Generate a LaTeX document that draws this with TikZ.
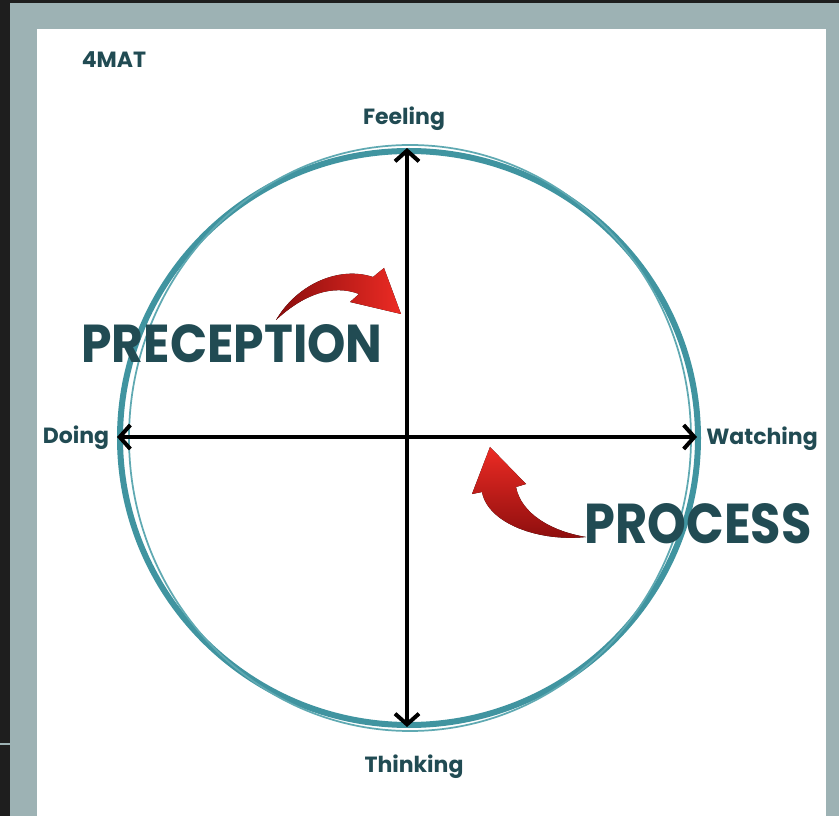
\documentclass[tikz,border=0pt]{standalone}
\usepackage{fontspec}
\usepackage{graphicx}
\setmainfont{Poppins}
\usetikzlibrary{arrows.meta}

\definecolor{strip}{HTML}{1E1E1E}
\definecolor{frame}{HTML}{9DB2B4}
\definecolor{ring}{HTML}{4094A0}
\definecolor{ringlight}{HTML}{5FA9B2}
\definecolor{ink}{HTML}{214B53}
\definecolor{redlight}{HTML}{EC2B24}
\definecolor{reddark}{HTML}{8A0D0D}

\tikzset{
  axis/.style={line width=3pt, line cap=round, {Straight Barb[length=8pt,width=18pt]}-{Straight Barb[length=8pt,width=18pt]}},
  word/.style={font=\bfseries\fontsize{16.5}{18}\selectfont, text=ink, inner sep=0pt, anchor=base},
  bigword/.style={font=\bfseries, text=ink, inner sep=0pt, anchor=base},
  bendright/.style={draw=none, left color=reddark, right color=redlight},
  bendup/.style={draw=none, top color=redlight, bottom color=reddark}
}

\begin{document}
\begin{tikzpicture}[x=0.75pt,y=-0.75pt]
  \useasboundingbox (0,0) rectangle (839,816);
  % page
  \fill[strip] (0,0) rectangle (839,816);
  \fill[frame] (10,3) rectangle (839,816);
  \fill[white] (37,29) rectangle (826,816);
  \draw[frame, line width=1pt] (0,744) -- (10,744);

  % rings
  \draw[ring, line width=4.5pt] (409,438) circle[x radius=289, y radius=287];
  \draw[ringlight, line width=1.3pt] (410,438) circle[x radius=281, y radius=293];

  % axis ends
  \coordinate (feel)  at (407,148);
  \coordinate (think) at (407,727);
  \coordinate (doing) at (117,437);
  \coordinate (watch) at (697,437);

  \draw[axis] (feel) -- (think);
  \draw[axis] (doing) -- (watch);

  \node[word] (title)   at (114,68)  {4MAT};
  \node[word] (feeling) at (404,125) {Feeling};
  \node[word] (thinking) at (414,772) {Thinking};
  \node[word] (doinglbl) at (76,444) {Doing};
  \node[word] (watching) at (762,445) {Watching};

  \node[bigword] (preception) at (232,363) {\resizebox{225.75pt}{28.5pt}{PRECEPTION}};
  \node[bigword] (process)    at (698,543) {\resizebox{170.25pt}{30pt}{PROCESS}};

  % red arrows
  \fill[bendright] (276,320) .. controls (298,283) and (340,266) .. (373,277)
    -- (384,268) -- (401,314) -- (350,302) -- (359,294)
    .. controls (333,284) and (304,294) .. (276,320) -- cycle;
  \fill[bendup] (586,537) .. controls (540,542) and (488,524) .. (482,492)
    -- (472,494) -- (490,447) -- (526,484) -- (516,487)
    .. controls (521,513) and (550,531) .. (586,537) -- cycle;
\end{tikzpicture}
\end{document}
